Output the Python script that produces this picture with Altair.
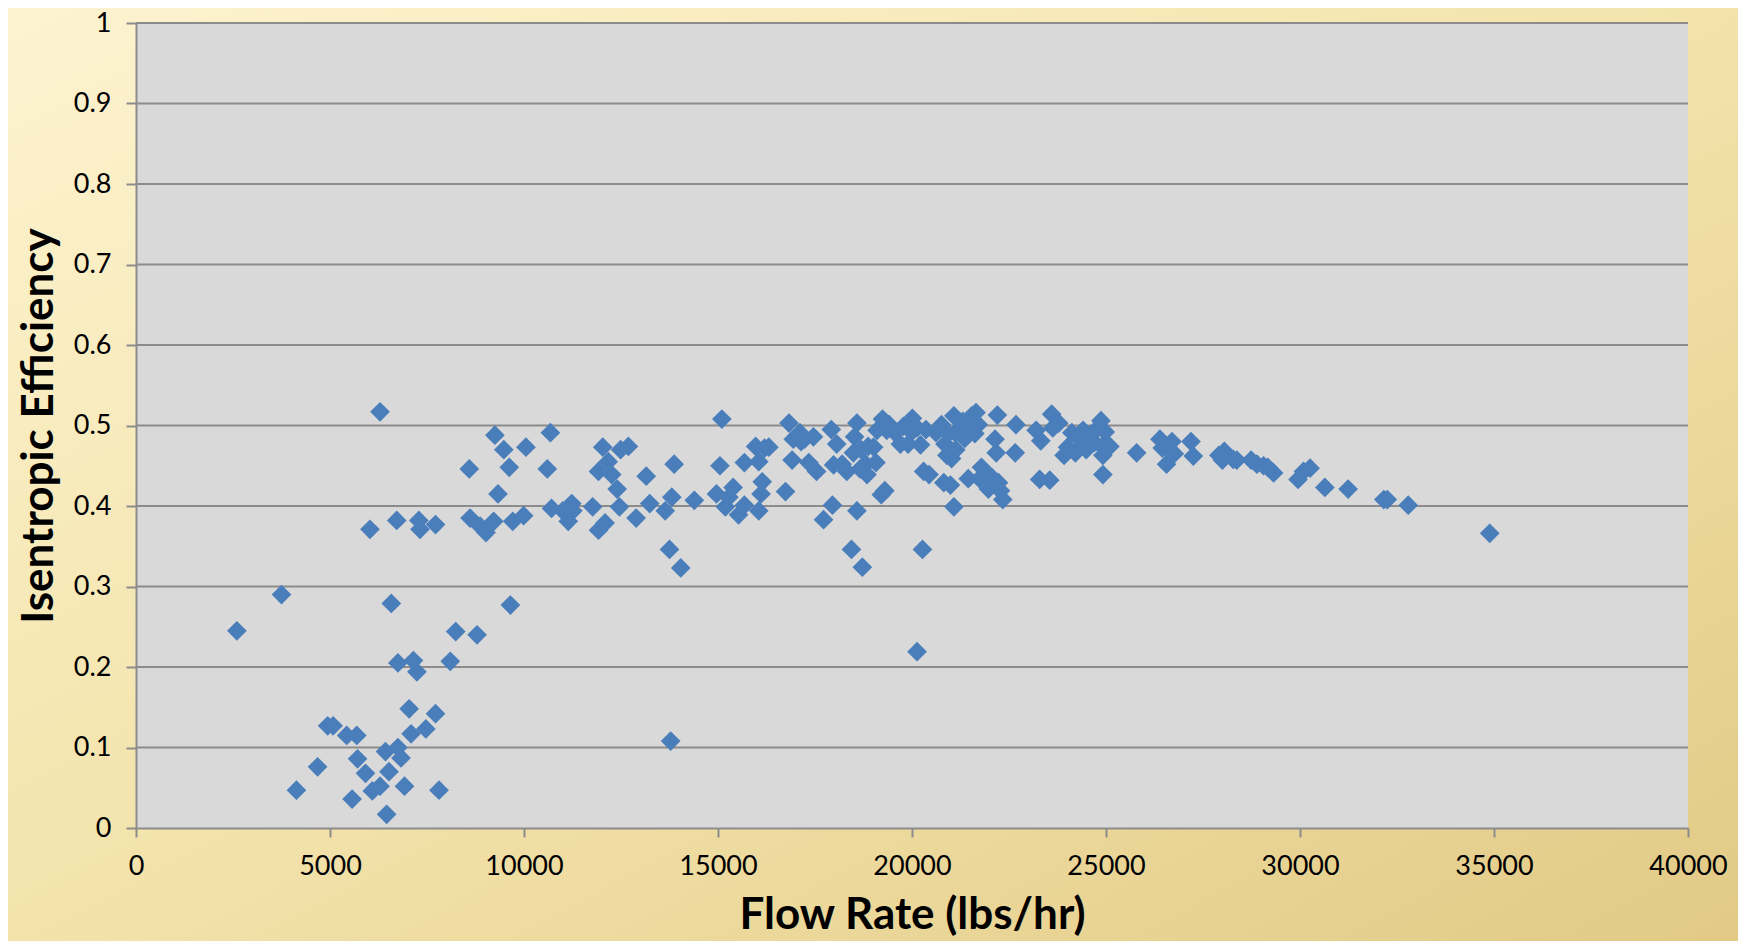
import altair as alt
import pandas as pd

flow = [2600, 3750, 4135, 4680, 4940, 5080, 5430, 5690, 5570, 5710, 5915, 6030, 6090, 6290, 6290,
        6460, 6430, 6520, 6580, 6720, 6750, 6750, 6830, 6920, 7040, 7090, 7150, 7240, 7290, 7320,
        7470, 7720, 7720, 7810, 8100, 8240, 8590, 8610, 8790, 8870, 9020, 9220, 9250, 9330, 9480,
        9620, 9650, 9710, 9990, 10050, 10600, 10680, 10710, 11000, 11140, 11230, 11260, 11770, 11920,
        11920, 12030, 12090, 12170, 12260, 12400, 12460, 12490, 12690, 12890, 13150, 13240, 13640,
        13750, 13780, 13810, 13870, 14040, 14390, 14960, 15050, 15100, 15190, 15280, 15390, 15530,
        15680, 15680, 15970, 16050, 16050, 16110, 16140, 16200, 16310, 16740, 16830, 16940, 16910,
        17110, 17140, 17230, 17340, 17460, 17540, 17720, 17920, 17950, 17980, 18060, 18200, 18320,
        18440, 18490, 18520, 18580, 18580, 18660, 18690, 18720, 18810, 18840, 18870, 19010, 19070,
        19100, 19210, 19240, 19300, 19350, 19410, 19560, 19700, 19780, 19900, 19990, 20010, 20130,
        20130, 20220, 20270, 20300, 20360, 20440, 20620, 20760, 20820, 20850, 20900, 20930, 20990,
        21020, 21080, 21080, 21110, 21130, 21220, 21310, 21360, 21450, 21480, 21540, 21620, 21650,
        21710, 21740, 21790, 21880, 21970, 22050, 22140, 22170, 22200, 22230, 22280, 22340, 22660,
        22680, 23200, 23290, 23320, 23550, 23600, 23630, 23780, 23920, 24010, 24120, 24210, 24320,
        24410, 24490, 24580, 24700, 24810, 24870, 24900, 24920, 24920, 24980, 25100, 25790, 26390,
        26450, 26560, 26620, 26700, 26760, 27190, 27250, 27910, 28000, 28050, 28280, 28370, 28740,
        28890, 29060, 29170, 29320, 29950, 30090, 30260, 30640, 31240, 32160, 32250, 32790, 34890]

eff = [0.245, 0.290, 0.047, 0.076, 0.127, 0.127, 0.115, 0.115, 0.036, 0.086, 0.068, 0.371, 0.046, 0.517, 0.052,
       0.017, 0.095, 0.070, 0.279, 0.382, 0.205, 0.100, 0.087, 0.052, 0.148, 0.117, 0.208, 0.194, 0.382, 0.371,
       0.123, 0.377, 0.142, 0.047, 0.207, 0.244, 0.446, 0.385, 0.240, 0.375, 0.367, 0.381, 0.488, 0.415, 0.470,
       0.448, 0.277, 0.381, 0.388, 0.473, 0.446, 0.491, 0.397, 0.394, 0.381, 0.403, 0.394, 0.399, 0.370,
       0.443, 0.473, 0.379, 0.455, 0.439, 0.421, 0.399, 0.470, 0.474, 0.385, 0.437, 0.403, 0.394,
       0.346, 0.108, 0.411, 0.452, 0.323, 0.407, 0.415, 0.450, 0.508, 0.399, 0.411, 0.423, 0.389,
       0.454, 0.401, 0.474, 0.394, 0.455, 0.415, 0.430, 0.472, 0.473, 0.418, 0.503, 0.483, 0.457,
       0.491, 0.480, 0.483, 0.454, 0.486, 0.443, 0.383, 0.495, 0.401, 0.451, 0.477, 0.452, 0.443,
       0.346, 0.466, 0.486, 0.503, 0.394, 0.446, 0.470, 0.324, 0.452, 0.439, 0.474, 0.473, 0.454,
       0.494, 0.414, 0.508, 0.419, 0.494, 0.501, 0.491, 0.477, 0.499, 0.477, 0.492, 0.509, 0.219,
       0.497, 0.476, 0.346, 0.443, 0.495, 0.439, 0.491, 0.501, 0.429, 0.477, 0.463, 0.490, 0.426,
       0.459, 0.512, 0.399, 0.491, 0.470, 0.495, 0.505, 0.484, 0.434, 0.494, 0.512, 0.490, 0.516,
       0.501, 0.434, 0.448, 0.440, 0.421, 0.436, 0.483, 0.466, 0.513, 0.429, 0.419, 0.408, 0.466,
       0.501, 0.494, 0.433, 0.481, 0.432, 0.514, 0.497, 0.503, 0.463, 0.473, 0.491, 0.466, 0.483,
       0.494, 0.470, 0.488, 0.479, 0.498, 0.506, 0.474, 0.463, 0.439, 0.492, 0.474, 0.466, 0.483,
       0.472, 0.452, 0.470, 0.480, 0.465, 0.480, 0.462, 0.463, 0.457, 0.468, 0.458, 0.457, 0.457,
       0.452, 0.450, 0.448, 0.441, 0.433, 0.443, 0.447, 0.423, 0.421, 0.408, 0.408, 0.401, 0.366]

x_ticks = [0, 5000, 10000, 15000, 20000, 25000, 30000, 35000, 40000]
y_ticks = [0, 0.1, 0.2, 0.3, 0.4, 0.5, 0.6, 0.7, 0.8, 0.9, 1.0]
grid_lines = [0.1, 0.2, 0.3, 0.4, 0.5, 0.6, 0.7, 0.8, 0.9, 1.0]

x_title = "Flow Rate (lbs/hr)"
y_title = "Isentropic Efficiency"

W, H = 1552, 805
PL, PT, PR, PB = 128, 15, 50, 113
FONT = "Lato"

df = pd.DataFrame({"flow": flow, "eff": eff})
one = pd.DataFrame({"k": [0]})
grid_df = pd.DataFrame({"eff": grid_lines})

y_enc = alt.Y("eff:Q", title=y_title,
              scale=alt.Scale(domain=[0, 1], nice=False),
              axis=alt.Axis(values=y_ticks, format="~g", grid=False, zindex=1,
                            domainColor="#8c8c8c", domainWidth=2,
                            tickColor="#8c8c8c", tickWidth=2, tickSize=10,
                            labelFont=FONT, labelFontSize=27, labelColor="#000000",
                            labelPadding=15, labelFlush=False,
                            titleFont=FONT, titleFontSize=44, titleFontWeight="bold",
                            titleColor="#000000", titlePadding=12))

bg = alt.Chart(one).mark_rect(
    fill=alt.Gradient(
        gradient="linear", x1=0, y1=0, x2=1, y2=1,
        stops=[alt.GradientStop(color="#fdf3d0", offset=0),
               alt.GradientStop(color="#f3e3ab", offset=0.5),
               alt.GradientStop(color="#e2ca86", offset=1)]),
).encode(x=alt.value(-PL), x2=alt.value(W + PR), y=alt.value(-PT), y2=alt.value(H + PB))

plot_bg = alt.Chart(one).mark_rect(fill="#d9d9d9").encode(
    x=alt.value(0), x2=alt.value(W), y=alt.value(0), y2=alt.value(H))

grid = alt.Chart(grid_df).mark_rule(color="#8c8c8c", strokeWidth=2).encode(y=y_enc)

points = alt.Chart(df).mark_point(shape="diamond", filled=True, size=390,
                                  color="#4a7ebb", opacity=1, strokeWidth=0).encode(
    x=alt.X("flow:Q", title=x_title,
            scale=alt.Scale(domain=[0, 40000], nice=False),
            axis=alt.Axis(values=x_ticks, format="d", grid=False, zindex=1,
                          domainColor="#8c8c8c", domainWidth=2,
                          tickColor="#8c8c8c", tickWidth=2, tickSize=9,
                          labelFont=FONT, labelFontSize=27, labelColor="#000000",
                          labelPadding=16, labelFlush=False,
                          titleFont=FONT, titleFontSize=44, titleFontWeight="bold",
                          titleColor="#000000", titlePadding=14)),
    y=y_enc,
)

chart = alt.layer(bg, plot_bg, grid, points).properties(
    width=W, height=H,
    autosize=alt.AutoSizeParams(type="none"),
    padding={"left": PL, "top": PT, "right": PR, "bottom": PB},
    background="#f3e3ab",
).configure_view(stroke=None)

chart.save("out.html", embed_options={"renderer": "svg", "actions": False})
